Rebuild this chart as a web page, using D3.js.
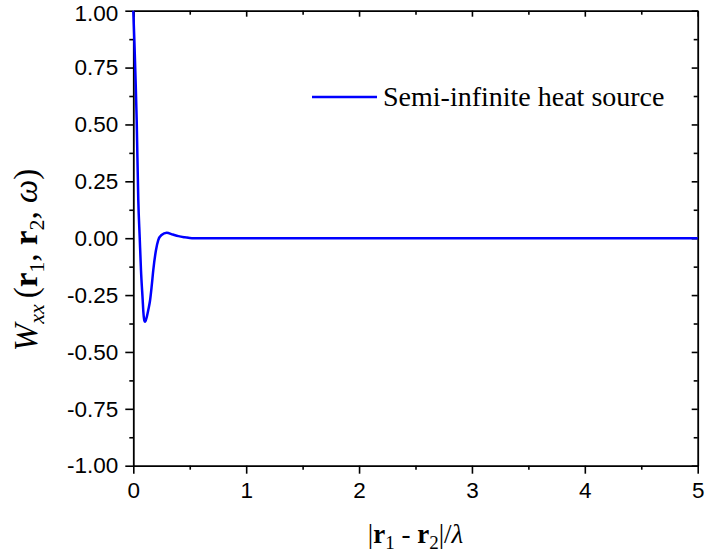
<!DOCTYPE html>
<html><head><meta charset="utf-8">
<script src="https://cdn.jsdelivr.net/npm/d3@7"></script>
<style>body{margin:0;background:#fff}svg{display:block}</style>
</head><body>
<script>
const xValues = [0, 0.01, 0.02, 0.03, 0.044, 0.057, 0.068, 0.083, 0.09, 0.098, 0.104, 0.11, 0.12, 0.133, 0.148, 0.163, 0.177, 0.2, 0.221, 0.25, 0.296, 0.35, 0.4, 0.458, 0.52, 0.6, 1, 2, 3, 4, 5];
const wValues = [1.0, 0.86, 0.70, 0.52, 0.17, 0.0, -0.14, -0.27, -0.33, -0.362, -0.367, -0.362, -0.345, -0.315, -0.275, -0.21, -0.14, -0.055, -0.008, 0.014, 0.024, 0.016, 0.009, 0.004, 0.0, 0.0, 0, 0, 0, 0, 0];
const xTicks = [0, 1, 2, 3, 4, 5];
const yTicks = [1.00, 0.75, 0.50, 0.25, 0.00, -0.25, -0.50, -0.75, -1.00];
const xMinor = [0.5, 1.5, 2.5, 3.5, 4.5];
const yMinor = [0.875, 0.625, 0.375, 0.125, -0.125, -0.375, -0.625, -0.875];
const seriesName = "Semi-infinite heat source";

const W = 707, H = 560;
const m = {l: 133.3, r: 9.3, t: 10.7, b: 94.3};
const svg = d3.select("body").append("svg").attr("width", W).attr("height", H);
const x = d3.scaleLinear().domain([0, 5]).range([m.l, W - m.r]);
const y = d3.scaleLinear().domain([-1, 1]).range([H - m.b, m.t]);

const tickFont = "'Liberation Sans', Arial, sans-serif";
const fmtY = d => d3.format(".2f")(d).replace("\u2212", "-");
function styleAxis(g) {
  g.selectAll("path.domain").attr("stroke", "#000").attr("stroke-width", 1.8);
  g.selectAll(".tick line").attr("stroke", "#000").attr("stroke-width", 1.6);
  g.selectAll(".tick text").attr("font-family", tickFont).attr("font-size", 22.5).attr("fill", "#000");
}
function minorStyle(g) { g.select("path.domain").remove(); g.selectAll("line").attr("stroke", "#000").attr("stroke-width", 1.6); }
// bottom
const gb = svg.append("g").attr("transform", `translate(0,${H - m.b})`)
  .call(d3.axisBottom(x).tickValues(xTicks).tickFormat(d3.format("d")).tickSizeInner(8).tickSizeOuter(0).tickPadding(8));
styleAxis(gb);
svg.append("g").attr("transform", `translate(0,${H - m.b})`)
  .call(d3.axisBottom(x).tickValues(xMinor).tickFormat("").tickSizeInner(4).tickSizeOuter(0)).call(minorStyle);
// left
const gl = svg.append("g").attr("transform", `translate(${m.l},0)`)
  .call(d3.axisLeft(y).tickValues(yTicks).tickFormat(fmtY).tickSizeInner(8).tickSizeOuter(0).tickPadding(7));
styleAxis(gl);
gl.selectAll(".tick text").filter(d => d === 1).attr("dy", "0.42em");
svg.append("g").attr("transform", `translate(${m.l},0)`)
  .call(d3.axisLeft(y).tickValues(yMinor).tickFormat("").tickSizeInner(4).tickSizeOuter(0)).call(minorStyle);
// top (inward)
const gt = svg.append("g").attr("transform", `translate(0,${m.t})`)
  .call(d3.axisTop(x).tickValues(xTicks).tickFormat("").tickSizeInner(-6).tickSizeOuter(0));
styleAxis(gt);
svg.append("g").attr("transform", `translate(0,${m.t})`)
  .call(d3.axisTop(x).tickValues(xMinor).tickFormat("").tickSizeInner(-4).tickSizeOuter(0)).call(minorStyle);
// right (inward)
const gr = svg.append("g").attr("transform", `translate(${W - m.r},0)`)
  .call(d3.axisRight(y).tickValues(yTicks).tickFormat("").tickSizeInner(-6).tickSizeOuter(0));
styleAxis(gr);
svg.append("g").attr("transform", `translate(${W - m.r},0)`)
  .call(d3.axisRight(y).tickValues(yMinor).tickFormat("").tickSizeInner(-4).tickSizeOuter(0)).call(minorStyle);

// curve
const pts = xValues.map((v, i) => [v, wValues[i]]);
svg.append("path").datum(pts)
  .attr("fill", "none").attr("stroke", "#0000ff").attr("stroke-width", 2.5)
  .attr("stroke-linejoin", "round")
  .attr("d", d3.line().x(d => x(d[0])).y(d => y(d[1])).curve(d3.curveMonotoneX));

// legend
const serif = "'Liberation Serif', 'Times New Roman', serif";
svg.append("line").attr("x1", 312).attr("x2", 377).attr("y1", 97).attr("y2", 97)
  .attr("stroke", "#0000ff").attr("stroke-width", 2.5);
svg.append("text").attr("x", 383).attr("y", 106).attr("font-family", serif).attr("font-size", 28)
  .attr("fill", "#000").text(seriesName);

// x axis title
const xt = svg.append("text").attr("x", x(2.5)).attr("y", 543).attr("text-anchor", "middle")
  .attr("font-family", serif).attr("font-size", 27).attr("fill", "#000");
xt.append("tspan").text("|");
xt.append("tspan").attr("font-weight", "bold").text("r");
xt.append("tspan").attr("font-size", 19).attr("dy", 6).text("1");
xt.append("tspan").attr("dy", -6).text(" - ");
xt.append("tspan").attr("font-weight", "bold").text("r");
xt.append("tspan").attr("font-size", 19).attr("dy", 6).text("2");
xt.append("tspan").attr("dy", -6).text("|/");
xt.append("tspan").attr("font-style", "italic").text("λ");

// y axis title
const yt = svg.append("text").attr("transform", `translate(37,260) rotate(-90)`).attr("text-anchor", "middle")
  .attr("font-family", serif).attr("font-size", 33).attr("fill", "#000");
yt.append("tspan").attr("font-style", "italic").text("W");
yt.append("tspan").attr("font-style", "italic").attr("font-size", 22).attr("dy", 7).text("xx");
yt.append("tspan").attr("dy", -7).attr("dx", 6).text("(");
yt.append("tspan").attr("font-weight", "bold").text("r");
yt.append("tspan").attr("font-size", 22).attr("dy", 7).text("1");
yt.append("tspan").attr("dy", -7).text(", ");
yt.append("tspan").attr("font-weight", "bold").text("r");
yt.append("tspan").attr("font-size", 22).attr("dy", 7).text("2");
yt.append("tspan").attr("dy", -7).text(", ");
yt.append("tspan").attr("font-style", "italic").text("ω");
yt.append("tspan").text(")");
</script>
</body></html>
